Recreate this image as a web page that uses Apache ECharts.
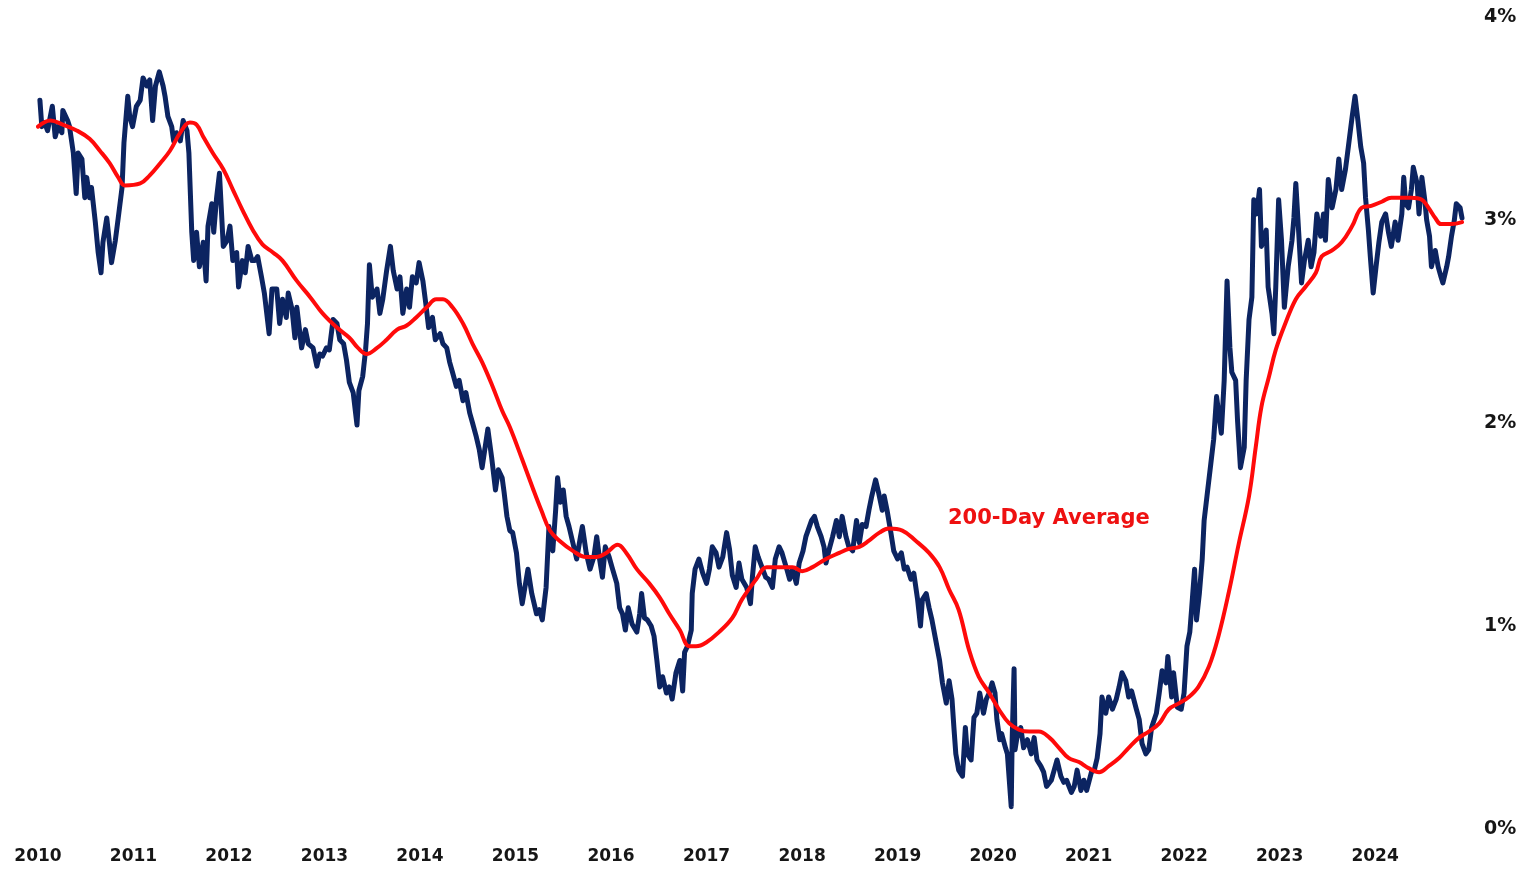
<!DOCTYPE html>
<html>
<head>
<meta charset="utf-8">
<title>Yield and 200-Day Average</title>
<script src="https://cdn.jsdelivr.net/npm/echarts@6/dist/echarts.min.js"></script>
<style>
  html, body { margin: 0; padding: 0; background: #ffffff; }
  #chart { width: 1525px; height: 870px; }
</style>
</head>
<body>
<div id="chart"></div>
<script>
// Time is stored as decimal years; values are in percent.
const yieldYears = [
  2010.02,2010.04,2010.07,2010.10,2010.15,2010.18,2010.21,2010.25,2010.26,2010.31,2010.33,2010.37,2010.40,2010.42,2010.46,2010.49,2010.51,2010.54,2010.56,2010.60,
  2010.63,2010.66,2010.68,2010.72,2010.77,2010.81,2010.84,2010.88,2010.90,2010.94,2010.96,2010.99,2011.03,2011.07,2011.10,2011.14,2011.17,2011.20,2011.23,2011.27,
  2011.31,2011.33,2011.36,2011.40,2011.42,2011.45,2011.49,2011.52,2011.56,2011.58,2011.61,2011.63,2011.66,2011.69,2011.73,2011.76,2011.78,2011.82,2011.84,2011.87,
  2011.90,2011.94,2011.98,2012.01,2012.04,2012.08,2012.10,2012.14,2012.17,2012.20,2012.24,2012.27,2012.30,2012.34,2012.37,2012.42,2012.45,2012.50,2012.53,2012.56,
  2012.60,2012.62,2012.66,2012.69,2012.71,2012.76,2012.80,2012.83,2012.88,2012.92,2012.95,2012.98,2013.02,2013.05,2013.09,2013.13,2013.16,2013.20,2013.23,2013.26,
  2013.30,2013.34,2013.36,2013.40,2013.43,2013.45,2013.47,2013.50,2013.55,2013.58,2013.61,2013.65,2013.69,2013.72,2013.76,2013.79,2013.82,2013.86,2013.89,2013.92,
  2013.96,2013.99,2014.03,2014.06,2014.09,2014.13,2014.16,2014.21,2014.24,2014.28,2014.31,2014.34,2014.38,2014.41,2014.45,2014.48,2014.52,2014.55,2014.59,2014.62,
  2014.65,2014.71,2014.75,2014.79,2014.82,2014.86,2014.88,2014.91,2014.94,2014.97,2015.01,2015.04,2015.07,2015.13,2015.17,2015.22,2015.25,2015.28,2015.32,2015.35,
  2015.39,2015.42,2015.44,2015.47,2015.50,2015.53,2015.56,2015.60,2015.64,2015.68,2015.70,2015.74,2015.78,2015.82,2015.85,2015.88,2015.91,2015.94,2015.98,2016.01,
  2016.06,2016.09,2016.12,2016.15,2016.18,2016.22,2016.27,2016.30,2016.32,2016.35,2016.38,2016.42,2016.45,2016.48,2016.51,2016.54,2016.58,2016.61,2016.64,2016.68,
  2016.72,2016.75,2016.77,2016.80,2016.84,2016.85,2016.88,2016.92,2016.96,2017.00,2017.03,2017.06,2017.10,2017.13,2017.17,2017.21,2017.24,2017.27,2017.31,2017.34,
  2017.37,2017.42,2017.46,2017.48,2017.51,2017.54,2017.58,2017.62,2017.65,2017.69,2017.72,2017.76,2017.79,2017.84,2017.87,2017.90,2017.94,2017.97,2018.01,2018.04,
  2018.10,2018.13,2018.16,2018.20,2018.23,2018.25,2018.28,2018.32,2018.36,2018.39,2018.42,2018.46,2018.49,2018.53,2018.57,2018.60,2018.63,2018.67,2018.70,2018.73,
  2018.77,2018.80,2018.84,2018.86,2018.89,2018.93,2018.96,2019.00,2019.04,2019.07,2019.10,2019.14,2019.17,2019.21,2019.24,2019.26,2019.30,2019.33,2019.36,2019.40,
  2019.44,2019.47,2019.51,2019.54,2019.57,2019.59,2019.61,2019.64,2019.68,2019.71,2019.73,2019.77,2019.80,2019.83,2019.86,2019.90,2019.93,2019.96,2019.99,2020.02,
  2020.04,2020.07,2020.09,2020.13,2020.15,2020.17,2020.19,2020.20,2020.22,2020.23,2020.25,2020.29,2020.32,2020.36,2020.40,2020.43,2020.46,2020.50,2020.53,2020.56,
  2020.61,2020.64,2020.67,2020.71,2020.74,2020.77,2020.82,2020.85,2020.88,2020.92,2020.95,2020.98,2021.03,2021.06,2021.09,2021.12,2021.14,2021.18,2021.21,2021.25,
  2021.29,2021.32,2021.35,2021.39,2021.42,2021.45,2021.50,2021.53,2021.56,2021.60,2021.63,2021.66,2021.71,2021.74,2021.77,2021.81,2021.83,2021.87,2021.89,2021.93,
  2021.97,2022.00,2022.03,2022.06,2022.08,2022.11,2022.13,2022.16,2022.19,2022.21,2022.24,2022.28,2022.31,2022.34,2022.39,2022.42,2022.45,2022.48,2022.50,2022.54,
  2022.56,2022.59,2022.63,2022.65,2022.68,2022.71,2022.73,2022.76,2022.79,2022.81,2022.86,2022.88,2022.92,2022.94,2022.96,2022.99,2023.02,2023.05,2023.09,2023.13,
  2023.15,2023.17,2023.20,2023.23,2023.26,2023.30,2023.33,2023.36,2023.39,2023.43,2023.46,2023.48,2023.51,2023.55,2023.59,2023.62,2023.65,2023.69,2023.72,2023.76,
  2023.79,2023.82,2023.85,2023.88,2023.90,2023.93,2023.95,2023.98,2024.01,2024.04,2024.07,2024.11,2024.14,2024.17,2024.21,2024.24,2024.28,2024.30,2024.32,2024.35,
  2024.38,2024.40,2024.44,2024.46,2024.49,2024.52,2024.54,2024.57,2024.59,2024.63,2024.66,2024.69,2024.71,2024.75,2024.77,2024.80,2024.83,2024.85,2024.89,2024.91
];
const yieldValues = [
  3.59,3.46,3.48,3.44,3.56,3.41,3.46,3.43,3.54,3.49,3.46,3.33,3.13,3.33,3.30,3.11,3.21,3.11,3.16,2.99,
  2.84,2.74,2.89,3.01,2.79,2.90,3.01,3.16,3.38,3.61,3.51,3.46,3.56,3.59,3.70,3.66,3.69,3.49,3.66,3.73,
  3.66,3.61,3.51,3.46,3.39,3.43,3.39,3.49,3.44,3.33,2.94,2.80,2.94,2.77,2.89,2.70,2.97,3.08,2.94,3.11,
  3.23,2.87,2.90,2.97,2.80,2.84,2.67,2.80,2.74,2.87,2.80,2.80,2.82,2.72,2.64,2.44,2.66,2.66,2.49,2.61,
  2.52,2.64,2.56,2.42,2.57,2.37,2.46,2.39,2.37,2.28,2.34,2.33,2.37,2.36,2.51,2.49,2.41,2.39,2.31,2.20,
  2.15,1.99,2.16,2.23,2.36,2.49,2.78,2.62,2.66,2.54,2.61,2.75,2.87,2.75,2.66,2.72,2.54,2.66,2.57,2.72,
  2.69,2.79,2.70,2.59,2.47,2.52,2.41,2.44,2.39,2.37,2.30,2.25,2.18,2.21,2.11,2.15,2.05,2.00,1.93,1.87,
  1.78,1.97,1.83,1.67,1.77,1.73,1.66,1.54,1.47,1.46,1.36,1.21,1.11,1.28,1.16,1.06,1.08,1.03,1.19,1.49,
  1.37,1.57,1.73,1.61,1.67,1.54,1.49,1.41,1.33,1.44,1.49,1.36,1.28,1.34,1.44,1.33,1.24,1.39,1.34,1.29,
  1.21,1.09,1.06,0.98,1.09,1.01,0.97,1.06,1.16,1.04,1.03,1.00,0.95,0.83,0.70,0.75,0.67,0.70,0.64,0.77,
  0.83,0.68,0.87,0.90,0.98,1.16,1.28,1.33,1.26,1.21,1.28,1.39,1.36,1.29,1.34,1.46,1.38,1.25,1.19,1.31,
  1.23,1.19,1.11,1.24,1.39,1.34,1.29,1.24,1.23,1.19,1.33,1.39,1.36,1.28,1.23,1.28,1.21,1.31,1.37,1.44,
  1.52,1.54,1.49,1.44,1.39,1.31,1.37,1.44,1.52,1.44,1.54,1.44,1.39,1.37,1.52,1.41,1.50,1.49,1.57,1.64,
  1.72,1.66,1.57,1.64,1.57,1.46,1.37,1.33,1.36,1.28,1.29,1.23,1.26,1.13,1.00,1.13,1.16,1.09,1.03,0.93,
  0.83,0.72,0.62,0.73,0.64,0.50,0.37,0.29,0.26,0.50,0.37,0.34,0.55,0.57,0.67,0.57,0.64,0.67,0.72,0.67,
  0.54,0.44,0.47,0.40,0.37,0.24,0.11,0.44,0.79,0.39,0.45,0.50,0.40,0.44,0.37,0.45,0.34,0.31,0.28,0.21,
  0.24,0.29,0.34,0.26,0.23,0.24,0.18,0.21,0.29,0.19,0.24,0.19,0.28,0.29,0.35,0.47,0.65,0.57,0.65,0.59,
  0.64,0.70,0.77,0.73,0.65,0.68,0.59,0.54,0.42,0.37,0.39,0.50,0.57,0.67,0.78,0.72,0.85,0.65,0.77,0.60,
  0.59,0.67,0.90,0.97,1.09,1.28,1.03,1.16,1.33,1.52,1.64,1.80,1.92,2.13,1.95,2.21,2.70,2.37,2.25,2.21,
  2.01,1.78,1.88,2.21,2.51,2.62,3.10,3.03,3.15,2.87,2.95,2.67,2.54,2.44,2.67,3.10,2.90,2.57,2.77,2.90,
  3.01,3.18,2.94,2.69,2.80,2.90,2.77,2.84,3.03,2.92,3.03,2.90,3.20,3.06,3.15,3.30,3.15,3.25,3.36,3.51,
  3.61,3.49,3.36,3.28,3.11,2.95,2.82,2.64,2.77,2.89,2.99,3.03,2.94,2.87,2.99,2.90,3.03,3.21,3.08,3.06,
  3.15,3.26,3.18,3.03,3.21,3.10,3.00,2.92,2.77,2.85,2.77,2.72,2.69,2.77,2.82,2.92,3.00,3.08,3.06,3.01
];

// 200-day moving average, sampled roughly monthly.
const averageYears = [
  2010.00,2010.13,2010.26,2010.41,2010.54,2010.65,2010.75,2010.84,2010.91,2011.07,2011.17,2011.28,2011.38,2011.49,2011.59,2011.66,2011.73,2011.83,2011.94,2012.04,
  2012.14,2012.25,2012.35,2012.46,2012.56,2012.71,2012.85,2012.98,2013.13,2013.26,2013.35,2013.44,2013.55,2013.65,2013.76,2013.86,2013.96,2014.07,2014.17,2014.24,
  2014.34,2014.45,2014.55,2014.65,2014.76,2014.86,2014.94,2015.07,2015.18,2015.27,2015.36,2015.46,2015.60,2015.74,2015.85,2015.95,2016.07,2016.16,2016.27,2016.40,
  2016.51,2016.61,2016.72,2016.82,2016.89,2017.00,2017.13,2017.27,2017.37,2017.52,2017.63,2017.76,2017.90,2018.00,2018.11,2018.25,2018.39,2018.49,2018.60,2018.70,
  2018.81,2018.91,2019.05,2019.19,2019.33,2019.44,2019.54,2019.64,2019.75,2019.85,2019.96,2020.06,2020.17,2020.27,2020.38,2020.48,2020.59,2020.69,2020.79,2020.90,
  2021.00,2021.11,2021.21,2021.32,2021.42,2021.53,2021.63,2021.74,2021.84,2021.95,2022.05,2022.15,2022.26,2022.36,2022.47,2022.57,2022.68,2022.75,2022.81,2022.89,
  2022.96,2023.06,2023.17,2023.27,2023.38,2023.44,2023.55,2023.65,2023.76,2023.86,2023.96,2024.07,2024.17,2024.28,2024.38,2024.49,2024.56,2024.63,2024.69,2024.80,
  2024.91
];
const averageValues = [
  3.46,3.49,3.47,3.44,3.40,3.34,3.28,3.21,3.17,3.18,3.22,3.28,3.34,3.43,3.48,3.47,3.41,3.33,3.25,3.15,
  3.05,2.95,2.88,2.84,2.80,2.70,2.62,2.54,2.47,2.42,2.37,2.34,2.37,2.41,2.46,2.48,2.52,2.57,2.61,2.61,
  2.57,2.49,2.39,2.30,2.18,2.06,1.98,1.82,1.68,1.57,1.47,1.42,1.37,1.34,1.34,1.36,1.40,1.36,1.28,1.21,
  1.14,1.06,0.98,0.90,0.90,0.92,0.97,1.04,1.13,1.23,1.29,1.29,1.29,1.27,1.29,1.33,1.36,1.38,1.39,1.42,
  1.46,1.48,1.47,1.42,1.36,1.29,1.18,1.08,0.88,0.75,0.67,0.59,0.52,0.49,0.48,0.48,0.45,0.40,0.35,0.33,
  0.30,0.28,0.31,0.35,0.40,0.45,0.48,0.52,0.59,0.62,0.65,0.70,0.80,0.95,1.17,1.40,1.64,1.88,2.08,2.23,
  2.36,2.49,2.61,2.67,2.74,2.82,2.85,2.89,2.97,3.06,3.07,3.09,3.11,3.11,3.11,3.10,3.06,3.01,2.98,2.98,
  2.99
];

const yearTicks = [2010,2011,2012,2013,2014,2015,2016,2017,2018,2019,2020,2021,2022,2023,2024];
const percentTicks = [0, 1, 2, 3, 4];
const averageLabel = '200-Day Average';

const pair = (xs, ys) => xs.map((x, i) => [x, ys[i]]);

const chart = echarts.init(document.getElementById('chart'), null, { renderer: 'canvas' });

chart.setOption({
  backgroundColor: '#ffffff',
  animation: false,
  grid: { left: 38, right: 63, top: 17, bottom: 41, containLabel: false },
  xAxis: {
    type: 'value',
    min: yearTicks[0],
    max: 2024.91,
    interval: 1,
    axisLine: { show: false },
    axisTick: { show: false },
    splitLine: { show: false },
    axisLabel: {
      margin: 19,
      color: '#161616',
      fontFamily: 'DejaVu Sans',
      fontWeight: 'bold',
      fontSize: 17,
      showMaxLabel: false,
      formatter: v => (yearTicks.indexOf(Math.round(v * 100) / 100) >= 0 ? String(v) : '')
    }
  },
  yAxis: {
    type: 'value',
    position: 'right',
    min: percentTicks[0],
    max: percentTicks[percentTicks.length - 1],
    interval: 1,
    axisLine: { show: false },
    axisTick: { show: false },
    splitLine: { show: false },
    axisLabel: {
      margin: 22,
      color: '#161616',
      fontFamily: 'DejaVu Sans',
      fontWeight: 'bold',
      fontSize: 19,
      formatter: v => v + '%'
    }
  },
  series: [
    {
      name: 'Yield',
      type: 'line',
      data: pair(yieldYears, yieldValues),
      showSymbol: false,
      symbol: 'none',
      lineStyle: { color: '#0c2461', width: 5, join: 'round', cap: 'round' },
      z: 2
    },
    {
      name: averageLabel,
      type: 'line',
      data: pair(averageYears, averageValues),
      showSymbol: false,
      symbol: 'none',
      smooth: 0.4,
      lineStyle: { color: '#ff0a0a', width: 4, join: 'round', cap: 'round' },
      z: 3
    }
  ],
  graphic: [
    {
      type: 'text',
      left: 948,
      top: 508,
      style: {
        text: averageLabel,
        fill: '#ee1111',
        font: 'bold 21px "DejaVu Sans"'
      }
    }
  ]
});
</script>
</body>
</html>
